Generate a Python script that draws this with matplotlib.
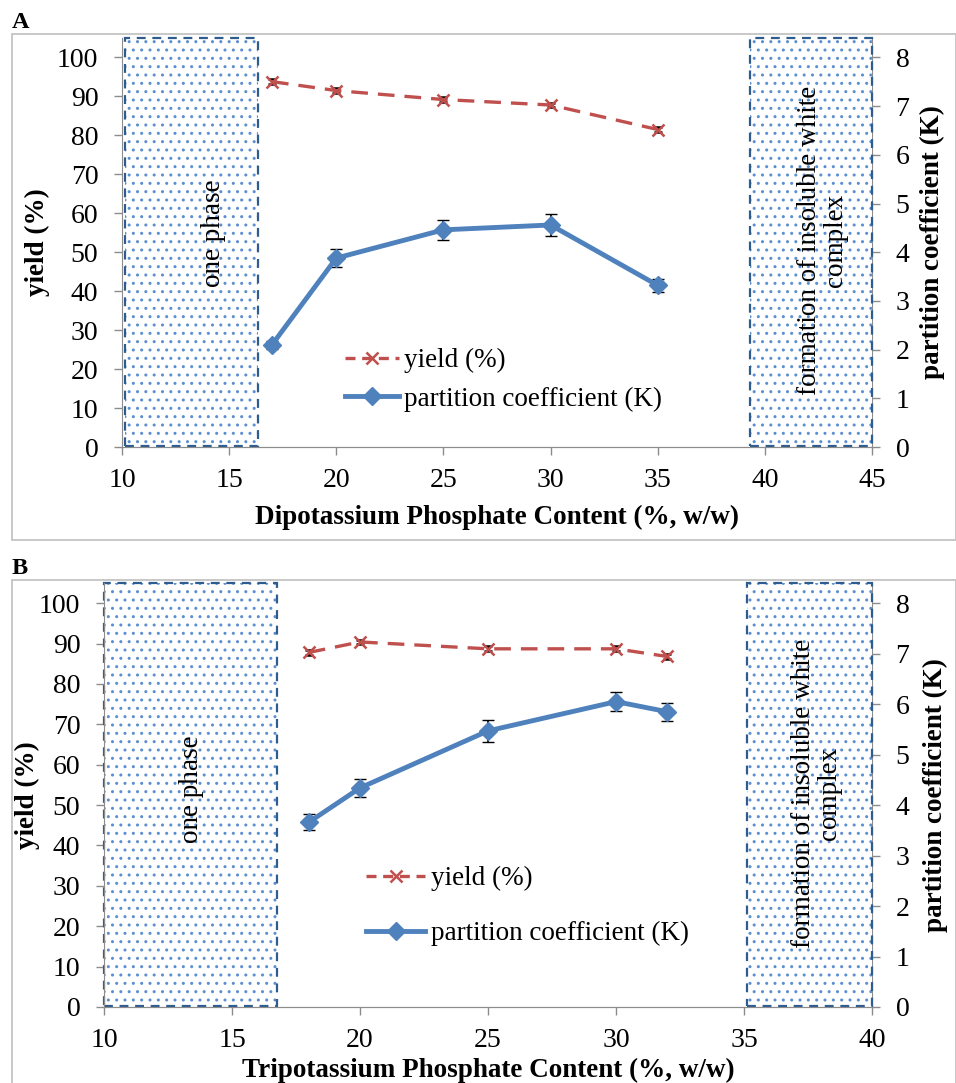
import matplotlib
matplotlib.use("Agg")
import matplotlib.pyplot as plt
from matplotlib.patches import Rectangle
from matplotlib.lines import Line2D

plt.rcParams["font.family"] = ["Liberation Serif", "DejaVu Serif"]
plt.rcParams["hatch.linewidth"] = 1.0

# panel A: dipotassium phosphate
a_x = [17, 20, 25, 30, 35]
a_yield = [93.8, 91.5, 89.2, 87.8, 81.5]
a_yield_err = [0.6, 0.6, 0.6, 0.6, 0.6]
a_k = [2.10, 3.88, 4.46, 4.56, 3.32]
a_k_err = [0.08, 0.18, 0.20, 0.22, 0.13]
a_one_phase = (10.15, 16.35)
a_complex = (39.3, 45.0)

# panel B: tripotassium phosphate
b_x = [18, 20, 25, 30, 32]
b_yield = [87.8, 90.4, 88.7, 88.7, 86.8]
b_yield_err = [0.6, 0.6, 0.6, 0.6, 0.6]
b_k = [3.66, 4.34, 5.47, 6.05, 5.85]
b_k_err = [0.16, 0.17, 0.22, 0.19, 0.18]
b_one_phase = (10.0, 16.75)
b_complex = (35.1, 40.0)

RED = "#C0504D"
BLUE = "#4F81BD"
DARK = "#2E5C8F"
GRAY = "#8C8C8C"
FS = 19.5
TICK_FS = 20


def draw_box(ax, x0, x1, top=105.0):
    ax.add_patch(Rectangle((x0, 0.3), x1 - x0, top - 0.3, facecolor="white",
                           edgecolor="#5B8FD0", hatch="..", linewidth=0, zorder=1))
    ax.add_patch(Rectangle((x0, 0.3), x1 - x0, top - 0.3, facecolor="none",
                           edgecolor=DARK, linestyle=(0, (4, 3)), linewidth=1.6,
                           zorder=2, clip_on=False))


def panel(rect, xs, ys, yerr, ks, kerr, xlim, xticks, boxes, xlabel, texts,
          leg, label_pos):
    ax = fig.add_axes(rect)
    ax2 = ax.twinx()
    ax.set_zorder(ax2.get_zorder() + 1)
    ax.patch.set_visible(False)

    for x0, x1 in boxes:
        draw_box(ax, x0, x1)

    ax.errorbar(xs, ys, yerr=yerr, color=RED, ls=(0, (5, 3)), lw=2.4,
                marker="x", ms=8, mew=1.8, ecolor="black", elinewidth=1,
                capsize=3, zorder=4)
    kk = [k * 12.5 for k in ks]
    ke = [e * 12.5 for e in kerr]
    ax.errorbar(xs, kk, yerr=ke, color=BLUE, lw=3.5, marker="D", ms=9,
                ecolor="black", elinewidth=1.2, capsize=4, zorder=5)

    ax.set_xlim(*xlim)
    ax.set_ylim(0, 105)
    ax2.set_ylim(0, 8.4)
    ax.set_xticks(xticks)
    ax.set_yticks(range(0, 101, 10))
    ax2.set_yticks(range(0, 9))

    for a in (ax, ax2):
        for s in a.spines.values():
            s.set_color(GRAY)
        a.spines["top"].set_visible(False)
        a.tick_params(labelsize=TICK_FS, color=GRAY, length=6, width=1,
                      direction="out", pad=11)
    ax.spines["right"].set_visible(False)
    ax2.spines["left"].set_visible(False)
    ax.tick_params(axis="x", pad=9)

    xl_y, yl_x, kl_x = label_pos
    ax.set_xlabel(xlabel, fontsize=FS, fontweight="bold")
    ax.xaxis.set_label_coords(0.5, xl_y)
    ax.xaxis.label.set_va("center")
    ax.set_ylabel("yield (%)", fontsize=FS, fontweight="bold")
    ax.yaxis.set_label_coords(yl_x, 0.5)
    ax.yaxis.label.set_va("center")
    ax2.set_ylabel("partition coefficient (K)", fontsize=FS, fontweight="bold")
    ax2.yaxis.set_label_coords(kl_x, 0.5)
    ax2.yaxis.label.set_va("center")

    for tx, ty, s in texts:
        ax.text(tx, ty, s, rotation=90, fontsize=FS, ha="center",
                va="center", zorder=6, linespacing=1.05)

    lx, ly, hl, sp = leg
    handles = [
        Line2D([], [], color=RED, ls=(0, (3, 2)), lw=2.4, marker="x",
               ms=8, mew=1.8),
        Line2D([], [], color=BLUE, lw=3.5, marker="D", ms=9),
    ]
    ax.legend(handles, ["yield (%)", "partition coefficient (K)"],
              loc="center left", bbox_to_anchor=(lx, ly), frameon=False,
              fontsize=FS, handlelength=hl, handletextpad=0.2,
              labelspacing=sp, borderpad=0, borderaxespad=0)
    return ax


fig = plt.figure(figsize=(9.56, 10.83), dpi=100)

# panel frames
fig.patches.append(Rectangle((12 / 956, 1 - 540 / 1083), 944 / 956, 506 / 1083,
                             transform=fig.transFigure, fill=False,
                             edgecolor="#BFBFBF", lw=1.2))
fig.patches.append(Rectangle((12 / 956, -0.01), 944 / 956, 1 - 580 / 1083 + 0.01,
                             transform=fig.transFigure, fill=False,
                             edgecolor="#BFBFBF", lw=1.2))
fig.text(12 / 956, 1 - 22 / 1083, "A", fontsize=FS - 2, fontweight="bold",
         va="center")
fig.text(12 / 956, 1 - 568 / 1083, "B", fontsize=FS - 2, fontweight="bold",
         va="center")

panel([122 / 956, 1 - 447 / 1083, 750 / 956, 409 / 1083],
      a_x, a_yield, a_yield_err, a_k, a_k_err,
      (10, 45), range(10, 46, 5), [a_one_phase, a_complex],
      "Dipotassium Phosphate Content (%, w/w)",
      [(14.25, 55, "one phase"),
       (42.7, 53, "formation of insoluble white\ncomplex")],
      (0.297, 0.164, 2.0, 0.5),
      (-0.171, -0.113, 1.081))

panel([104 / 956, 1 - 1007 / 1083, 768 / 956, 424 / 1083],
      b_x, b_yield, b_yield_err, b_k, b_k_err,
      (10, 40), range(10, 41, 5), [b_one_phase, b_complex],
      "Tripotassium Phosphate Content (%, w/w)",
      [(13.4, 54, "one phase"),
       (37.85, 53, "formation of insoluble white\ncomplex")],
      (0.341, 0.238, 2.2, 1.1),
      (-0.149, -0.1, 1.083))

fig.savefig("out.png", dpi=100)
